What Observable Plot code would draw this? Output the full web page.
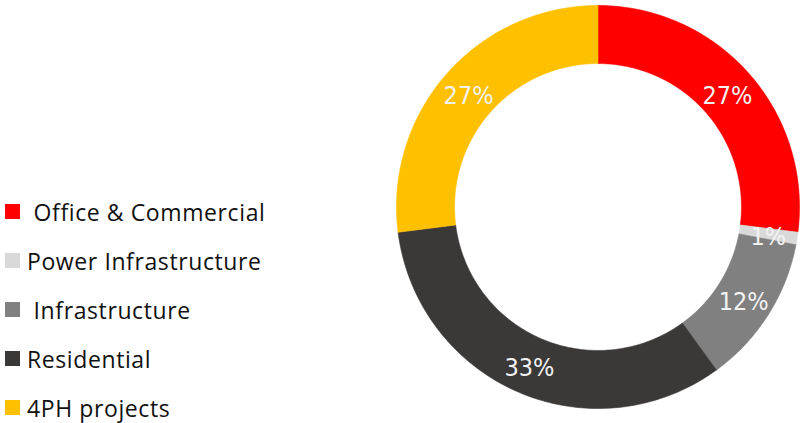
<!DOCTYPE html>
<html>
<head>
<meta charset="utf-8">
<script src="https://cdn.jsdelivr.net/npm/d3@7"></script>
<script src="https://cdn.jsdelivr.net/npm/@observablehq/plot@0.6"></script>
<style>
  html, body { margin: 0; padding: 0; background: #fff; }
  #wrap { position: relative; width: 804px; height: 423px; overflow: hidden; }
  #legend { position: absolute; left: 5px; top: 187px; font-family: "Open Sans", "Liberation Sans", sans-serif; font-size: 23px; letter-spacing: 0.6px; color: #111; }
  .row { height: 49px; display: flex; align-items: center; white-space: pre; }
  .sw { width: 15px; height: 15px; margin-right: 7px; flex: none; }
  #chart { position: absolute; left: 0; top: 0; }
</style>
</head>
<body>
<div id="wrap">
  <div id="chart"></div>
  <div id="legend"></div>
</div>
<script>
const categories = ["Office & Commercial", "Power Infrastructure", "Infrastructure", "Residential", "4PH projects"];
const legendLabels = [" Office & Commercial", "Power Infrastructure", " Infrastructure", "Residential", "4PH projects"];
const values = [27, 1, 12, 33, 27];
const valueLabels = ["27%", "1%", "12%", "33%", "27%"];
const colors = ["#FF0000", "#D9D9D9", "#808080", "#3B3838", "#FFC000"];

const innerRatio = 0.712;
const pie = d3.pie().sort(null).value(d => d.value)(categories.map((c, i) => ({name: c, value: values[i], label: valueLabels[i]})));

// polygon points for each slice (angles clockwise from 12 o'clock)
const pts = [];
for (const s of pie) {
  const a0 = s.startAngle, a1 = s.endAngle;
  const n = Math.max(4, Math.ceil((a1 - a0) / (Math.PI / 180)));
  for (let k = 0; k <= n; k++) {
    const a = a0 + (a1 - a0) * k / n;
    pts.push({name: s.data.name, x: Math.sin(a), y: Math.cos(a)});
  }
  for (let k = n; k >= 0; k--) {
    const a = a0 + (a1 - a0) * k / n;
    pts.push({name: s.data.name, x: innerRatio * Math.sin(a), y: innerRatio * Math.cos(a)});
  }
  pts.push({name: s.data.name, x: Math.sin(a0), y: Math.cos(a0)});
}
const rc = (1 + innerRatio) / 2;
const labelPts = pie.map(s => {
  const a = (s.startAngle + s.endAngle) / 2;
  return {name: s.data.name, label: s.data.label, x: rc * Math.sin(a), y: rc * Math.cos(a)};
});

const chart = Plot.plot({
  width: 804,
  height: 423,
  marginLeft: 396,
  marginRight: 5,
  marginTop: 5,
  marginBottom: 15,
  x: {domain: [-1, 1], axis: null},
  y: {domain: [-1, 1], axis: null},
  color: {domain: categories, range: colors},
  style: {background: "#fff"},
  marks: [
    Plot.line(pts, {x: "x", y: "y", z: "name", fill: "name", stroke: "name", strokeWidth: 0.6, curve: "linear"}),
    Plot.text(labelPts, {x: "x", y: "y", text: "label", fill: "#F2F2F2", fontSize: 25, dy: 3,
      fontFamily: "'DejaVu Sans Condensed', 'DejaVu Sans', sans-serif", textAnchor: "middle", lineAnchor: "middle"})
  ]
});
document.getElementById("chart").appendChild(chart);

const legend = document.getElementById("legend");
categories.forEach((c, i) => {
  const row = document.createElement("div");
  row.className = "row";
  const sw = document.createElement("span");
  sw.className = "sw";
  sw.style.background = colors[i];
  const t = document.createElement("span");
  t.textContent = legendLabels[i];
  row.appendChild(sw);
  row.appendChild(t);
  legend.appendChild(row);
});
</script>
</body>
</html>
